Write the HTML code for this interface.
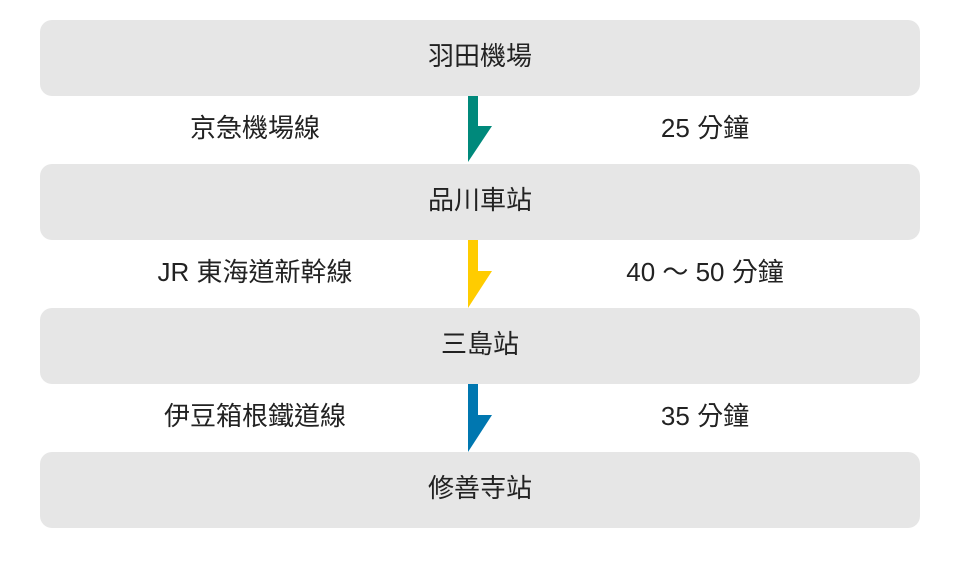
<!DOCTYPE html>
<html><head><meta charset="utf-8"><style>
body{margin:0;width:960px;height:562px;background:#fff;position:relative;font-family:"Liberation Sans","Noto Sans CJK TC",sans-serif;color:#222;overflow:hidden}
.box{position:absolute;left:40px;width:880px;height:76px;background:#e6e6e6;border-radius:12px;font-size:26px;text-align:center;line-height:72px}
.l,.r{position:absolute;font-size:26px;width:320px;text-align:center;line-height:30px}
.l{left:95px}.r{left:545px}
svg{position:absolute;left:0;top:0}
</style></head><body>
<div class="box" style="top:20px">羽田機場</div>
<div class="box" style="top:164px">品川車站</div>
<div class="box" style="top:308px">三島站</div>
<div class="box" style="top:452px">修善寺站</div>
<div class="l" style="top:113px">京急機場線</div><div class="r" style="top:113px">25 分鐘</div>
<div class="l" style="top:257px">JR 東海道新幹線</div><div class="r" style="top:257px">40 〜 50 分鐘</div>
<div class="l" style="top:401px">伊豆箱根鐵道線</div><div class="r" style="top:401px">35 分鐘</div>
<svg width="960" height="562">
<polygon points="468,96 478,96 478,126 492,126 468,162" fill="#00897b"/>
<polygon points="468,240 478,240 478,271 492,271 468,308" fill="#ffcc00"/>
<polygon points="468,384 478,384 478,415 492,415 468,452" fill="#0077b0"/>
</svg>
</body></html>
